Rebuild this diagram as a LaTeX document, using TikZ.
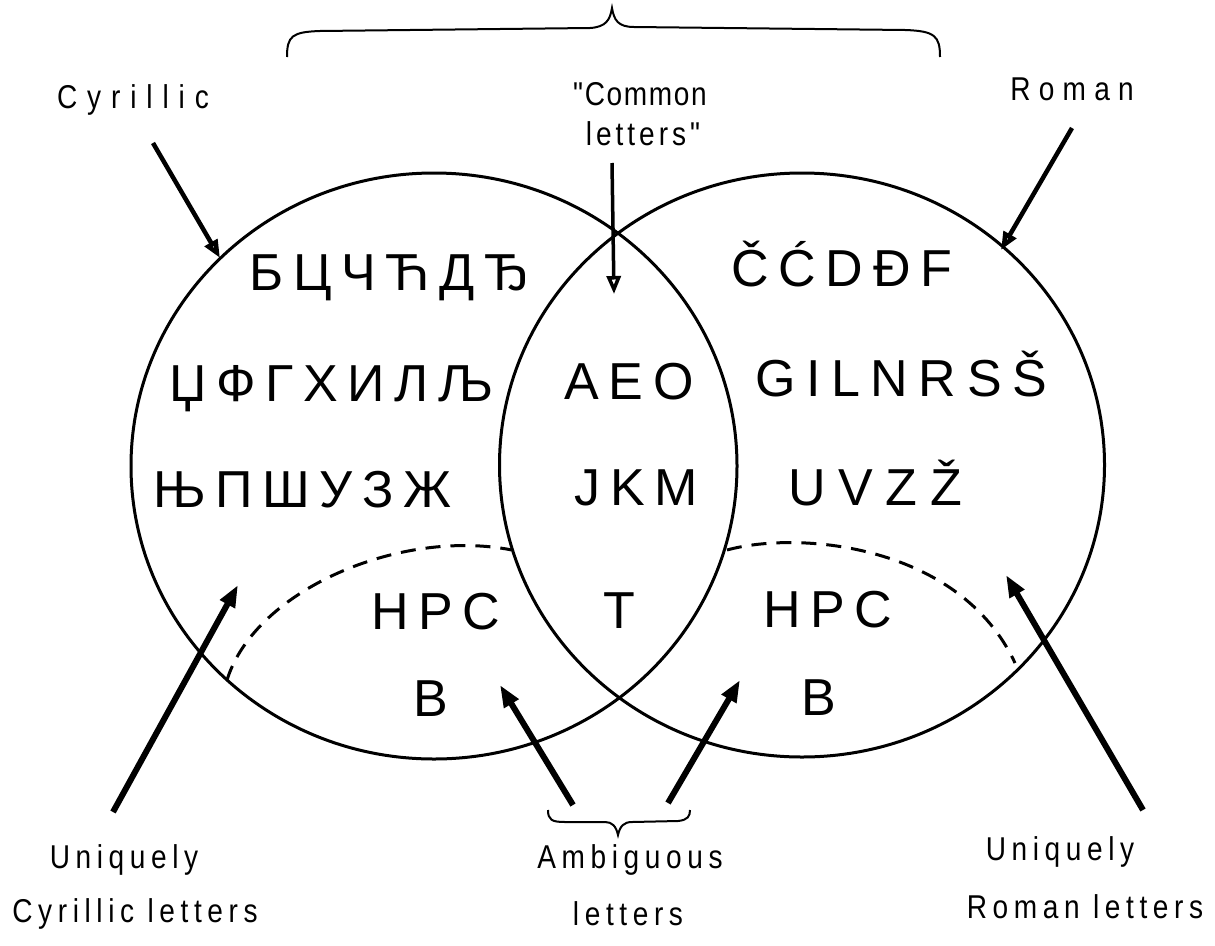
\documentclass[tikz,border=0pt]{standalone}
\usepackage{fontspec}
\setmainfont{Liberation Sans}
\newfontfamily\labfont{Liberation Sans}[FakeStretch=0.85,LetterSpace=17]
\newfontfamily\glyphfont{Liberation Sans}
\usetikzlibrary{arrows.meta}
\begin{document}
\begin{tikzpicture}[x=1pt,y=-1pt,
  lab/.style={font=\labfont\fontsize{33}{38}\selectfont, inner sep=0pt, anchor=base},
  glyphs/.style={font=\glyphfont\fontsize{52}{60}\selectfont, inner sep=0pt, text height=37pt, text depth=0pt, anchor=center},
  ring/.style={line width=3pt},
  dsh/.style={line width=3pt, dash pattern=on 15pt off 10pt},
  arr/.style={line width=4.5pt, -{Triangle[open,length=18pt,width=14pt]}},
  barr/.style={line width=6pt, -{Triangle[length=22pt,width=16pt]}},
  bracestyle/.style={line width=2pt}]
\useasboundingbox (0,0) rectangle (1215,945);
% circles
\draw[ring] (434,466) ellipse [x radius=303pt, y radius=293pt];
\draw[ring] (802,465) ellipse [x radius=302.5pt, y radius=292pt];
% dashed arcs
\draw[dsh] (227,680) .. controls (255,590) and (400,528) .. (512,550);
\draw[dsh] (727,550) .. controls (800,530) and (960,545) .. (1015,663);
% top brace
\draw[bracestyle] (287,57) .. controls (287,36) and (292,32) .. (320,31) -- (590,28)
  .. controls (606,27) and (610,20) .. (612,8)
  .. controls (614,20) and (618,27) .. (634,27) -- (905,30)
  .. controls (935,31) and (940,36) .. (940,57);
% bottom brace
\draw[bracestyle] (548,810) .. controls (548,820) and (552,822) .. (565,822) -- (605,822)
  .. controls (612,822) and (616,826) .. (618,835)
  .. controls (620,826) and (624,822) .. (632,822) -- (678,821)
  .. controls (688,820) and (690,816) .. (690,810);
% top labels
\node[lab] (cyr) at (133,108) {\addfontfeature{LetterSpace=30}Cyrillic};
\node[lab] (com1) at (640,105) {\addfontfeature{LetterSpace=5}"Common};
\node[lab] (com2) at (643,145) {\addfontfeature{LetterSpace=12}letters"};
\node[lab] (rom) at (1072,100) {\addfontfeature{LetterSpace=25}Roman};
% bottom labels
\node[lab] (uc1) at (124,868) {Uniquely};
\node[lab] (uc2) at (135,922) {Cyrillic letters};
\node[lab] (am1) at (630,868) {Ambiguous};
\node[lab] (am2) at (628,925) {letters};
\node[lab] (ur1) at (1060,860) {Uniquely};
\node[lab] (ur2) at (1085,918) {Roman letters};
% letters
\node[glyphs] (c1) at (378,272) {\makebox[257pt][s]{Б Ц Ч Ћ Д Ђ}};
\node[glyphs] (c2) at (331,383) {\makebox[323pt][s]{Џ Ф Г Х И Л Љ}};
\node[glyphs] (c3) at (298,489) {\makebox[290pt][s]{Њ П Ш У З Ж}};
\node[glyphs] (m1) at (621,381) {\makebox[113pt][s]{A E O}};
\node[glyphs] (m2) at (627,487) {\makebox[105pt][s]{J K M}};
\node[glyphs] (m3) at (619,610) {T};
\node[glyphs] (r1) at (832,268) {\makebox[201pt][s]{Č Ć D Đ F}};
\node[glyphs] (r2) at (901,378) {\makebox[292pt][s]{G I L N R S Š}};
\node[glyphs] (r3) at (875,487) {\makebox[174pt][s]{U V Z Ž}};
\node[glyphs] (lh) at (429,611) {\makebox[115pt][s]{H P C}};
\node[glyphs] (lb) at (431,698) {B};
\node[glyphs] (rh) at (820,609) {\makebox[114pt][s]{H P C}};
\node[glyphs] (rb) at (819,697) {B};
% arrow coordinates
\coordinate (cyrS) at (153,143); \coordinate (cyrT) at (220,258);
\coordinate (comS) at (612,163); \coordinate (comT) at (614,294);
\coordinate (romS) at (1072,128); \coordinate (romT) at (1001,250);
\coordinate (ucS) at (113,812); \coordinate (ucT) at (238,585);
\coordinate (alS) at (573,805); \coordinate (alT) at (500,685);
\coordinate (arS) at (668,803); \coordinate (arT) at (740,680);
\coordinate (urS) at (1143,810); \coordinate (urT) at (1006,575);
\draw[arr] (cyrS) -- (cyrT);
\draw[arr, line width=3.5pt] (comS) -- (comT);
\draw[arr] (romS) -- (romT);
\draw[barr] (ucS) -- (ucT);
\draw[barr] (alS) -- (alT);
\draw[barr] (arS) -- (arT);
\draw[barr] (urS) -- (urT);
\end{tikzpicture}
\end{document}
